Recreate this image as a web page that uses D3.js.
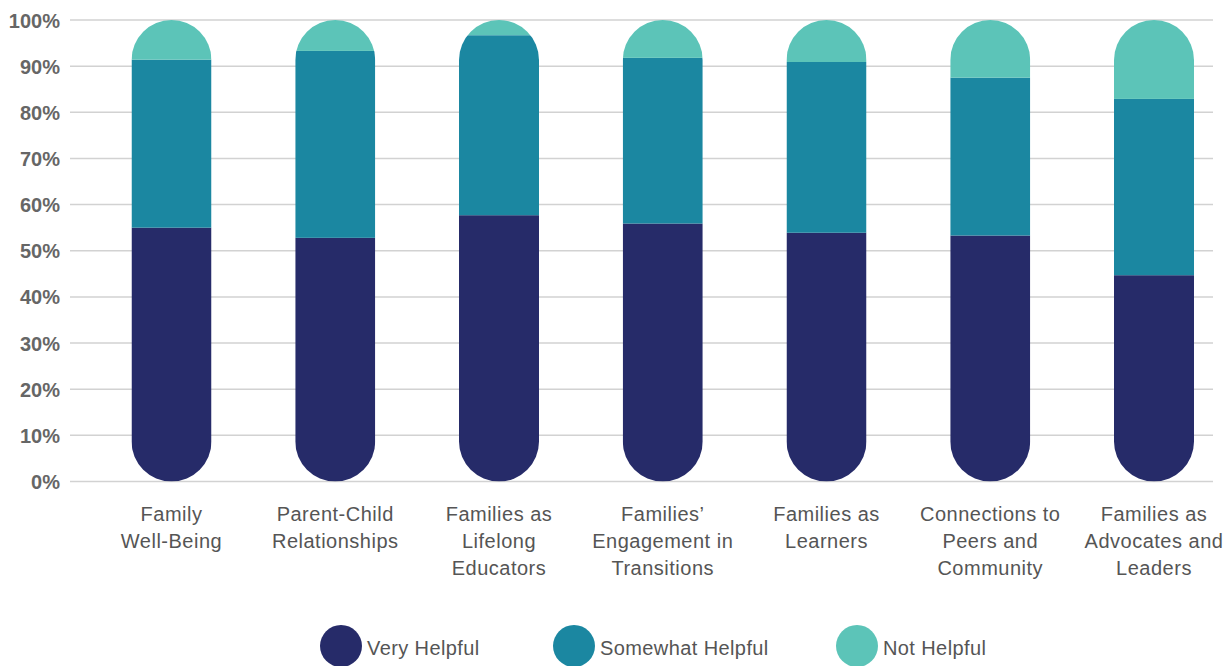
<!DOCTYPE html>
<html>
<head>
<meta charset="utf-8">
<script src="https://cdn.jsdelivr.net/npm/d3@7"></script>
<style>
  html, body { margin: 0; padding: 0; background: #fff; }
  svg { display: block; }
</style>
</head>
<body>
<svg id="chart" width="1225" height="666"></svg>
<script>
// Survey results: how helpful each topic area was, share of respondents (%)
const categories = [
  "Family\nWell-Being",
  "Parent-Child\nRelationships",
  "Families as\nLifelong\nEducators",
  "Families’\nEngagement in\nTransitions",
  "Families as\nLearners",
  "Connections to\nPeers and\nCommunity",
  "Families as\nAdvocates and\nLeaders"
];
const veryHelpful     = [55.0, 52.8, 57.7, 55.9, 53.9, 53.3, 44.7];
const somewhatHelpful = [36.4, 40.5, 39.0, 35.9, 37.0, 34.2, 38.2];
const notHelpful      = [8.6, 6.7, 3.3, 8.2, 9.1, 12.5, 17.1];
const seriesNames = ["Very Helpful", "Somewhat Helpful", "Not Helpful"];
const seriesColors = ["#262b69", "#1b87a1", "#5cc4b8"];
const yTicks = [0, 10, 20, 30, 40, 50, 60, 70, 80, 90, 100];

const rows = categories.map((c, i) => ({
  category: c,
  "Very Helpful": veryHelpful[i],
  "Somewhat Helpful": somewhatHelpful[i],
  "Not Helpful": notHelpful[i]
}));

const svg = d3.select("#chart");
const barWidth = 80;

const x = d3.scalePoint().domain(categories).range([171.5, 1154]);
const y = d3.scaleLinear().domain([0, 100]).range([481.5, 20]);
const color = d3.scaleOrdinal().domain(seriesNames).range(seriesColors);

// horizontal gridlines
svg.append("g")
  .selectAll("line")
  .data(yTicks)
  .join("line")
  .attr("x1", 70).attr("x2", 1213)
  .attr("y1", d => y(d)).attr("y2", d => y(d))
  .attr("stroke", "#d2d2d2")
  .attr("stroke-width", 1.5);

// y axis labels
const yAxis = svg.append("g")
  .attr("transform", "translate(60,0)")
  .call(d3.axisLeft(y).tickValues(yTicks).tickFormat(d => d + "%").tickSize(0).tickPadding(0));
yAxis.select(".domain").remove();
yAxis.selectAll("text")
  .attr("font-family", "'Liberation Sans', Arial, sans-serif")
  .attr("font-weight", "bold")
  .attr("font-size", 20)
  .attr("fill", "#666666")
  .attr("dy", "0.35em");

// pill-shaped clip for each stacked column
const defs = svg.append("defs");
categories.forEach((c, i) => {
  defs.append("clipPath").attr("id", "pill" + i)
    .append("rect")
    .attr("x", x(c) - barWidth / 2)
    .attr("y", y(100))
    .attr("width", barWidth)
    .attr("height", y(0) - y(100))
    .attr("rx", barWidth / 2)
    .attr("ry", barWidth / 2);
});

const stacked = d3.stack().keys(seriesNames)(rows);

const bars = svg.append("g");
categories.forEach((c, i) => {
  const g = bars.append("g").attr("clip-path", `url(#pill${i})`);
  g.selectAll("rect")
    .data(stacked.map(s => ({ key: s.key, d: s[i] })))
    .join("rect")
    .attr("x", x(c) - barWidth / 2)
    .attr("width", barWidth)
    .attr("y", s => y(s.d[1]))
    .attr("height", s => y(s.d[0]) - y(s.d[1]))
    .attr("fill", s => color(s.key));
});

// category labels
const labelFont = "'Liberation Sans', Arial, sans-serif";
const catLabels = svg.append("g")
  .selectAll("text")
  .data(categories)
  .join("text")
  .attr("x", d => x(d))
  .attr("y", 521)
  .attr("text-anchor", "middle")
  .attr("font-family", labelFont)
  .attr("font-size", 20)
  .attr("letter-spacing", 0.5)
  .attr("fill", "#555555");
catLabels.each(function(d) {
  const t = d3.select(this);
  d.split("\n").forEach((line, k) => {
    t.append("tspan").attr("x", x(d)).attr("dy", k === 0 ? 0 : 27).text(line);
  });
});

// legend
const legendX = [341, 574, 857];
const legend = svg.append("g")
  .selectAll("g")
  .data(seriesNames)
  .join("g")
  .attr("transform", (d, i) => `translate(${legendX[i]},646)`);
legend.append("circle").attr("r", 21).attr("fill", d => color(d));
legend.append("text")
  .attr("x", 26)
  .attr("y", 9)
  .attr("font-family", labelFont)
  .attr("font-size", 20)
  .attr("letter-spacing", 0.4)
  .attr("fill", "#555555")
  .text(d => d);
</script>
</body>
</html>
